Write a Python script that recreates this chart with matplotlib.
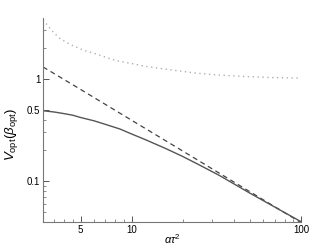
import matplotlib
matplotlib.use("Agg")
import matplotlib.pyplot as plt
from matplotlib.ticker import FixedLocator, NullFormatter, FixedFormatter

plt.rcParams['font.family'] = ['Liberation Sans', 'DejaVu Sans']
plt.rcParams['mathtext.fontset'] = 'custom'
plt.rcParams['mathtext.rm'] = 'Liberation Sans'
plt.rcParams['mathtext.it'] = 'Liberation Sans:italic'

# values
x_solid = [3, 3.5, 4, 4.5, 5, 6, 7, 8.5, 10, 12, 15.7, 20, 25, 33, 50, 70, 100]
v_solid = [0.489, 0.475, 0.458, 0.442, 0.42, 0.39, 0.36, 0.325, 0.29, 0.256,
           0.211, 0.175, 0.145, 0.114, 0.0765, 0.056, 0.0403]

x_dash = [3, 5, 10, 20, 50, 100]
v_dash = [1.31, 0.79, 0.395, 0.198, 0.079, 0.0395]

x_dot = [3.0, 3.35, 3.75, 4.3, 5.15, 6.2, 8.1, 9.7, 12, 16.8, 24, 31.7, 50, 70, 100]
v_dot = [3.79, 3.02, 2.5, 2.19, 1.92, 1.75, 1.51, 1.43, 1.33, 1.23, 1.14, 1.094,
         1.05, 1.03, 1.02]

fig = plt.figure(figsize=(3.32, 2.5), dpi=100)
ax = fig.add_axes([0.1295, 0.112, 0.777, 0.816])

ax.plot(x_dot, v_dot, color='#b0b0b0', lw=1.0, linestyle=(0, (1, 2.5)))
ax.plot(x_dash, v_dash, color='#444444', lw=0.9, linestyle=(0, (4, 3)))
ax.plot(x_solid, v_solid, color='#555555', lw=1.0)

ax.set_xscale('log')
ax.set_yscale('log')
ax.set_xlim(3, 100)
ax.set_ylim(0.04, 3.94)

ax.xaxis.set_major_locator(FixedLocator([5, 10, 100]))
ax.xaxis.set_major_formatter(FixedFormatter(['5', '10', '100']))
ax.xaxis.set_minor_locator(FixedLocator([3.5, 4, 4.5, 6, 7, 8, 9, 20, 30, 40, 50, 60, 70, 80, 90]))
ax.xaxis.set_minor_formatter(NullFormatter())

ax.yaxis.set_major_locator(FixedLocator([0.1, 0.5, 1]))
ax.yaxis.set_major_formatter(FixedFormatter(['0.1', '0.5', '1']))
ax.yaxis.set_minor_locator(FixedLocator([0.05, 0.06, 0.07, 0.08, 0.09, 0.2, 0.3, 0.4, 2, 3]))
ax.yaxis.set_minor_formatter(NullFormatter())

for s in ['top', 'right']:
    ax.spines[s].set_visible(False)
for s in ['left', 'bottom']:
    ax.spines[s].set_color('#777777')
    ax.spines[s].set_linewidth(0.8)

ax.tick_params(which='major', direction='in', length=4, width=0.7, color='#555555',
               labelsize=7, pad=2)
ax.tick_params(which='minor', direction='in', length=2, width=0.6, color='#777777')

ax.set_xlabel(r'$\alpha\tau^2$', fontsize=8)
ax.xaxis.set_label_coords(0.5, -0.05)
ax.set_ylabel(r'$V_{\rm opt}(\beta_{\rm opt})$', fontsize=9.5)
ax.yaxis.set_label_coords(-0.09, 0.43)

fig.savefig('out.png', dpi=100)
